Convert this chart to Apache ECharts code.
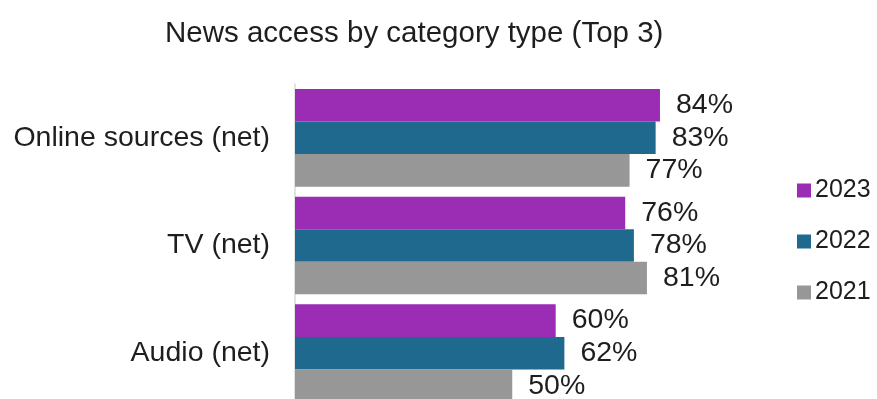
<!DOCTYPE html>
<html>
<head>
<meta charset="utf-8">
<script src="https://cdn.jsdelivr.net/npm/echarts@6/dist/echarts.min.js"></script>
<style>
  html, body { margin: 0; padding: 0; background: #fff; overflow: hidden; }
  /* the chart runs a little past the bottom edge, so the last bar is cut */
  #chart { width: 877px; height: 407px; }
</style>
</head>
<body>
<div id="chart"></div>
<script>
// Share of people using each news category, by survey year (%)
const categories = ['Online sources (net)', 'TV (net)', 'Audio (net)'];
const years = ['2023', '2022', '2021'];
const values2023 = [84, 76, 60];
const values2022 = [83, 78, 62];
const values2021 = [77, 81, 50];
const seriesValues = [values2023, values2022, values2021];
const yearColors = ['#9b2db5', '#1f698e', '#979797'];

const FONT = '"Liberation Sans", Arial, sans-serif';
const TEXT = '#1e1e1e';

const chart = echarts.init(document.getElementById('chart'), null, { renderer: 'canvas' });

const series = years.map((year, i) => ({
  name: year,
  type: 'bar',
  data: seriesValues[i],
  itemStyle: { color: yearColors[i] },
  barGap: '0%',
  barCategoryGap: '9.3%',
  label: {
    show: true,
    position: 'right',
    distance: 16,
    formatter: '{c}%',
    color: TEXT,
    fontFamily: FONT,
    fontSize: 28.5
  },
  animation: false
}));

chart.setOption({
  backgroundColor: '#ffffff',
  animation: false,
  title: {
    text: 'News access by category type (Top 3)',
    left: 165,
    top: 19,
    padding: 0,
    textStyle: { fontFamily: FONT, fontSize: 29.5, fontWeight: 'normal', color: TEXT }
  },
  legend: {
    orient: 'vertical',
    left: 792,
    top: 173,
    itemWidth: 14,
    itemHeight: 14,
    itemGap: 26,
    icon: 'rect',
    data: years,
    textStyle: { fontFamily: FONT, fontSize: 25, color: TEXT, padding: [0, 0, 0, -1] }
  },
  grid: {
    left: 295,
    top: 84,
    right: 147.5,
    bottom: 0,
    containLabel: false
  },
  xAxis: {
    type: 'value',
    min: 0,
    max: 100,
    show: false
  },
  yAxis: {
    type: 'category',
    data: categories,
    inverse: true,
    axisLine: { show: true, lineStyle: { color: '#d9d9d9', width: 1.5 } },
    axisTick: { show: false },
    axisLabel: {
      margin: 25,
      fontFamily: FONT,
      fontSize: 28.5,
      color: TEXT
    }
  },
  series: series
});
</script>
</body>
</html>
